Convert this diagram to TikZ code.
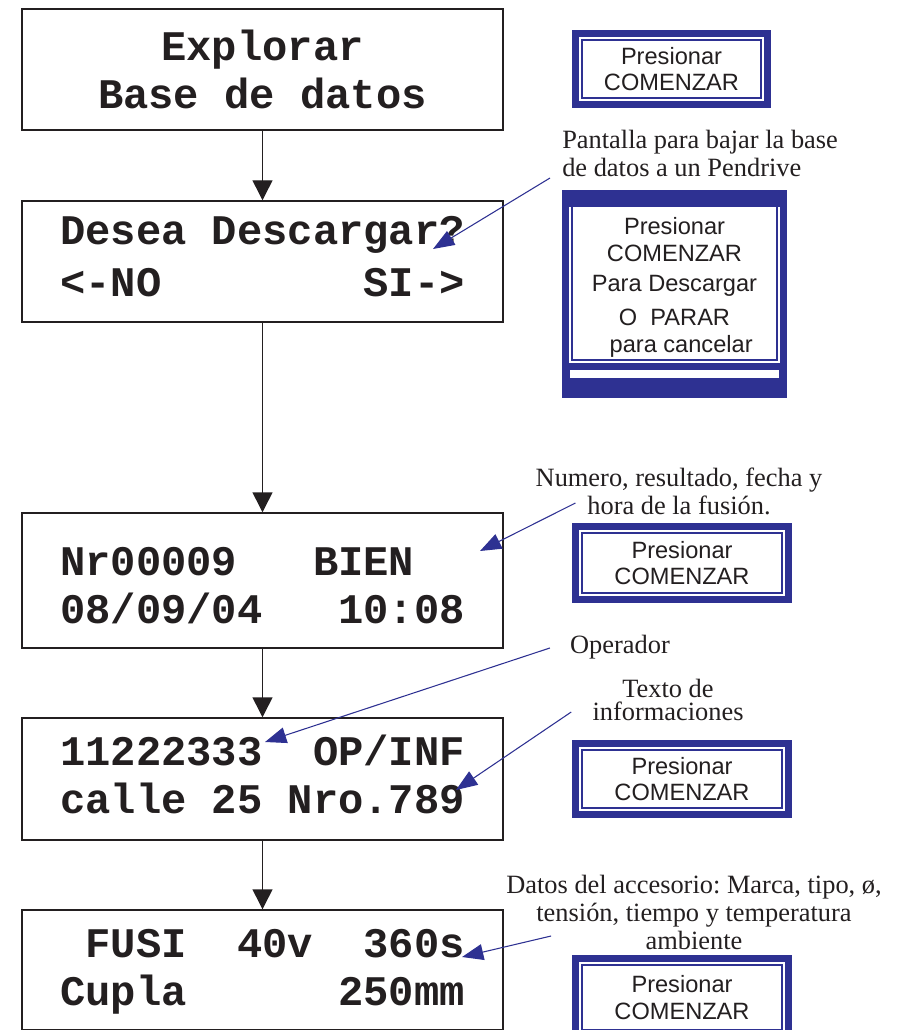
\documentclass[tikz,border=0pt]{standalone}
\usepackage{fontspec}
\setmainfont{Liberation Serif}
\newfontfamily\lcdfont{Liberation Mono}
\newfontfamily\keyfont{Liberation Sans}
\usetikzlibrary{arrows.meta}

\definecolor{navy}{RGB}{46,49,146}
\definecolor{ink}{RGB}{35,31,32}

\tikzset{
  lcd/.style={draw=ink, line width=1.1pt, minimum width=360.75pt, inner sep=0pt,
    text=ink, font=\lcdfont\bfseries\fontsize{31.6}{36}\selectfont},
  keybox/.style={draw=navy, line width=5.25pt, fill=white, inner sep=0pt, align=center,
    text=ink, font=\keyfont\fontsize{17.7}{19.8}\selectfont,
    path picture={\draw[navy, line width=1.5pt]
      ([shift={(4.9pt,4.9pt)}]path picture bounding box.south west) rectangle
      ([shift={(-4.9pt,-4.9pt)}]path picture bounding box.north east);}},
  note/.style={inner sep=0pt, align=center, text=ink, font=\frenchspacing\fontsize{19.8}{21}\selectfont},
  flow/.style={draw=ink, line width=1.1pt, -{Triangle[length=15pt,width=15pt]}},
  pointer/.style={draw=navy, line width=0.8pt, -{Triangle[length=16pt,width=12pt]}}
}

\begin{document}
\begin{tikzpicture}[x=0.75pt, y=-0.75pt]
% page frame
    \clip (0,0) rectangle (899,1030);

% screens of the welder, top to bottom
    \node[lcd, minimum height=90.75pt, align=center] (explorar) at (262.5,69.5) {Explorar\\Base de datos};
    \node[lcd, minimum height=90.75pt, align=left] (descarga) at (262.5,261.5)
      {Desea Descargar?\\[3pt]<-NO\ \ \ \ \ \ \ \ SI->\rule[-7pt]{0pt}{1pt}};
    \node[lcd, minimum height=101.25pt, align=left] (registro) at (262.5,580.5)
      {\rule{0pt}{29pt}Nr00009\ \ \ BIEN\\08/09/04\ \ \ 10:08};
    \node[lcd, minimum height=91.5pt, align=left] (operario) at (262.5,779)
      {11222333\ \ OP/INF\\calle 25 Nro.789\rule[-7pt]{0pt}{1pt}};
    \node[lcd, minimum height=90pt, align=left] (fusion) at (262.5,970)
      {\rule{0pt}{24.5pt}\hphantom{0}FUSI\ \ 40v\ \ 360s\\Cupla\ \ \ \ \ \ 250mm};

% flow between screens
    \draw[flow] (explorar) -- (descarga);
    \draw[flow] (descarga) -- (registro);
    \draw[flow] (registro) -- (operario);
    \draw[flow] (operario) -- (fusion);

% key hints
    \node[keybox, minimum width=144pt, minimum height=53.25pt] (tecla1) at (671.5,69) {Presionar\\COMENZAR};
    \node[keybox, minimum width=163.5pt, minimum height=129.75pt] (tecla2) at (674.5,280)
      {\rule{0pt}{24pt}Presionar\\COMENZAR\\[3pt]Para Descargar\\[6pt]O\ \ PARAR\hspace*{12pt}\\\hspace*{10pt}para cancelar};
    \fill[navy] (562,370) rectangle (787,398);
    \fill[white] (570,370) rectangle (779,378);
    \fill[navy] (562,190) rectangle (787,207);
    \node[keybox, minimum width=159.75pt, minimum height=54.75pt] (tecla3) at (682,563) {Presionar\\COMENZAR};
    \node[keybox, minimum width=159.75pt, minimum height=53.25pt] (tecla4) at (682,779) {Presionar\\COMENZAR};
    \node[keybox, minimum width=159.75pt, minimum height=58.5pt] (tecla5) at (682,997.5) {Presionar\\COMENZAR};

% notes
    \node[note, anchor=west, align=left] (pantalla) at (562,153) {Pantalla para bajar la base\\de datos a un Pendrive};
    \node[note] (resultado) at (679,491) {Numero, resultado, fecha y\\hora de la fusión.};
    \node[note] (operador) at (620,647) {Operador};
    \node[note, font=\fontsize{19.8}{17}\selectfont] (texto) at (668,700) {Texto de\\informaciones};
    \node[note] (accesorio) at (694,912) {Datos del accesorio: Marca, tipo, ø,\\tensión, tiempo y temperatura\\ambiente};

% where the notes point
    \coordinate (si) at (433,249);
    \coordinate (estado) at (480,551);
    \coordinate (numop) at (265,742);
    \coordinate (calle) at (456,790);
    \coordinate (tiempo) at (462,957);

    \draw[pointer] ([shift={(-12,25)}]pantalla.west) -- (si);
    \draw[pointer] ([shift={(40,12)}]resultado.west) -- (estado);
    \draw[pointer] ([shift={(-20,1)}]operador.west) -- (numop);
    \draw[pointer] ([shift={(-21,12)}]texto.west) -- (calle);
    \draw[pointer] ([shift={(45,24)}]accesorio.west) -- (tiempo);

\end{tikzpicture}
\end{document}
